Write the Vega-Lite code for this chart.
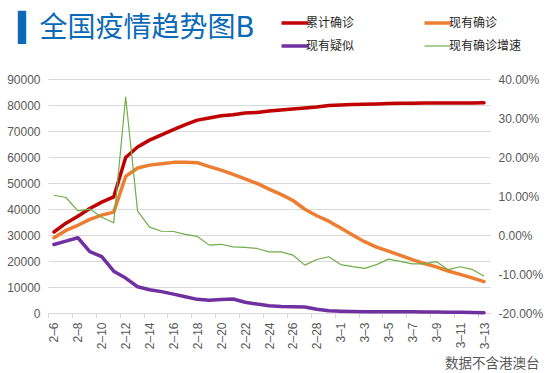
{
  "$schema": "https://vega.github.io/schema/vega-lite/v6.json",
  "width": 442,
  "height": 234,
  "autosize": {"type": "none"},
  "padding": {"left": 48, "top": 79, "right": 65, "bottom": 60},
  "background": "white",
  "title": {
    "text": "▍全国疫情趋势图B",
    "anchor": "start",
    "frame": "group",
    "font": "DejaVu Sans, Noto Sans CJK SC",
    "fontSize": 28,
    "fontWeight": "normal",
    "color": "#0a6ab8",
    "dx": -30,
    "baseline": "middle",
    "offset": 0,
    "dy": 40
  },
  "data": {
    "values": [
      {"d": "2-6", "累计确诊": 31161, "现有确诊": 28985, "现有疑似": 26359, "现有确诊增速": 0.1020},
      {"d": "2-7", "累计确诊": 34546, "现有确诊": 31774, "现有疑似": 27657, "现有确诊增速": 0.0962},
      {"d": "2-8", "累计确诊": 37198, "现有确诊": 33738, "现有疑似": 28942, "现有确诊增速": 0.0618},
      {"d": "2-9", "累计确诊": 40171, "现有确诊": 35982, "现有疑似": 23589, "现有确诊增速": 0.0665},
      {"d": "2-10", "累计确诊": 42638, "现有确诊": 37626, "现有疑似": 21675, "现有确诊增速": 0.0457},
      {"d": "2-11", "累计确诊": 44653, "现有确诊": 38800, "现有疑似": 16067, "现有确诊增速": 0.0312},
      {"d": "2-12", "累计确诊": 59804, "现有确诊": 52526, "现有疑似": 13435, "现有确诊增速": 0.3538},
      {"d": "2-13", "累计确诊": 63851, "现有确诊": 55748, "现有疑似": 10109, "现有确诊增速": 0.0613},
      {"d": "2-14", "累计确诊": 66492, "现有确诊": 56873, "现有疑似": 8969, "现有确诊增速": 0.0202},
      {"d": "2-15", "累计确诊": 68500, "现有确诊": 57416, "现有疑似": 8228, "现有确诊增速": 0.0096},
      {"d": "2-16", "累计确诊": 70548, "现有确诊": 57934, "现有疑似": 7264, "现有确诊增速": 0.0090},
      {"d": "2-17", "累计确诊": 72436, "现有确诊": 58016, "现有疑似": 6242, "现有确诊增速": 0.0014},
      {"d": "2-18", "累计确诊": 74185, "现有确诊": 57805, "现有疑似": 5248, "现有确诊增速": -0.0036},
      {"d": "2-19", "累计确诊": 75002, "现有确诊": 56303, "现有疑似": 4922, "现有确诊增速": -0.0260},
      {"d": "2-20", "累计确诊": 75891, "现有确诊": 54965, "现有疑似": 5206, "现有确诊增速": -0.0238},
      {"d": "2-21", "累计确诊": 76288, "现有确诊": 53284, "现有疑似": 5365, "现有确诊增速": -0.0306},
      {"d": "2-22", "累计确诊": 76936, "现有确诊": 51606, "现有疑似": 4148, "现有确诊增速": -0.0315},
      {"d": "2-23", "累计确诊": 77150, "现有确诊": 49824, "现有疑似": 3434, "现有确诊增速": -0.0345},
      {"d": "2-24", "累计确诊": 77658, "现有确诊": 47672, "现有疑似": 2824, "现有确诊增速": -0.0432},
      {"d": "2-25", "累计确诊": 78064, "现有确诊": 45604, "现有疑似": 2491, "现有确诊增速": -0.0434},
      {"d": "2-26", "累计确诊": 78497, "现有确诊": 43258, "现有疑似": 2358, "现有确诊增速": -0.0514},
      {"d": "2-27", "累计确诊": 78824, "现有确诊": 39919, "现有疑似": 2308, "现有确诊增速": -0.0772},
      {"d": "2-28", "累计确诊": 79251, "现有确诊": 37414, "现有疑似": 1418, "现有确诊增速": -0.0628},
      {"d": "2-29", "累计确诊": 79824, "现有确诊": 35329, "现有疑似": 851, "现有确诊增速": -0.0557},
      {"d": "3-1", "累计确诊": 80026, "现有确诊": 32652, "现有疑似": 715, "现有确诊增速": -0.0758},
      {"d": "3-2", "累计确诊": 80151, "现有确诊": 30004, "现有疑似": 587, "现有确诊增速": -0.0811},
      {"d": "3-3", "累计确诊": 80270, "现有确诊": 27433, "现有疑似": 520, "现有确诊增速": -0.0857},
      {"d": "3-4", "累计确诊": 80409, "现有确诊": 25352, "现有疑似": 522, "现有确诊增速": -0.0759},
      {"d": "3-5", "累计确诊": 80552, "现有确诊": 23784, "现有疑似": 482, "现有确诊增速": -0.0619},
      {"d": "3-6", "累计确诊": 80651, "现有确诊": 22177, "现有疑似": 502, "现有确诊增速": -0.0676},
      {"d": "3-7", "累计确诊": 80695, "现有确诊": 20533, "现有疑似": 458, "现有确诊增速": -0.0741},
      {"d": "3-8", "累计确诊": 80735, "现有确诊": 19016, "现有疑似": 421, "现有确诊增速": -0.0739},
      {"d": "3-9", "累计确诊": 80754, "现有确诊": 17721, "现有疑似": 349, "现有确诊增速": -0.0681},
      {"d": "3-10", "累计确诊": 80778, "现有确诊": 16145, "现有疑似": 285, "现有确诊增速": -0.0889},
      {"d": "3-11", "累计确诊": 80793, "现有确诊": 14831, "现有疑似": 253, "现有确诊增速": -0.0814},
      {"d": "3-12", "累计确诊": 80813, "现有确诊": 13526, "现有疑似": 147, "现有确诊增速": -0.0880},
      {"d": "3-13", "累计确诊": 80824, "现有确诊": 12094, "现有疑似": 115, "现有确诊增速": -0.1059}
    ]
  },
  "encoding": {
    "x": {
      "field": "d",
      "type": "ordinal",
      "sort": null,
      "scale": {"type": "point", "padding": 0.5},
      "axis": {
        "title": "数据不含港澳台",
        "values": ["2-6","2-8","2-10","2-12","2-14","2-16","2-18","2-20","2-22","2-24","2-26","2-28","3-1","3-3","3-5","3-7","3-9","3-11","3-13"],
        "labelExpr": "replace(datum.label, '-', '–')",
        "labelAngle": -90,
        "labelFont": "Liberation Sans",
        "labelFontSize": 12,
        "labelColor": "#595959",
        "labelPadding": 4,
        "tickColor": "#d9d9d9",
        "tickSize": 5,
        "tickOffset": -6,
        "labelOffset": 6,
        "domainColor": "#d9d9d9",
        "grid": false,
        "titleFont": "Noto Sans CJK SC",
        "titleFontSize": 13.5,
        "titleFontWeight": "normal",
        "titleColor": "#595959",
        "titleAnchor": "end",
        "titleAlign": "right",
        "titleBaseline": "middle",
        "titleX": 491,
        "titleY": 50
      }
    },
    "color": {
      "field": "series",
      "type": "ordinal",
      "scale": {
        "domain": ["累计确诊", "现有确诊", "现有疑似", "现有确诊增速"],
        "range": ["#c00000", "#ed7d31", "#7030a0", "#70ad47"]
      },
      "legend": {
        "title": null,
        "orient": "none",
        "direction": "horizontal",
        "legendX": 241,
        "legendY": -62,
        "columns": 2,
        "symbolType": "stroke",
        "symbolSize": 729,
        "symbolStrokeWidth": 3.5,
        "labelFont": "Noto Sans CJK SC",
        "labelFontSize": 12,
        "labelColor": "#262626",
        "labelOffset": 5,
        "columnPadding": 62,
        "rowPadding": 9,
        "encode": {
          "symbols": {
            "update": {
              "strokeWidth": {"signal": "datum.value === '现有确诊增速' ? 1.2 : 3.5"}
            }
          }
        }
      }
    }
  },
  "layer": [
    {
      "transform": [{"fold": ["累计确诊", "现有确诊", "现有疑似"], "as": ["series", "v"]}],
      "mark": {"type": "line", "strokeWidth": 3.5, "strokeJoin": "round", "strokeCap": "round"},
      "encoding": {
        "y": {
          "field": "v",
          "type": "quantitative",
          "scale": {"domain": [0, 90000]},
          "axis": {
            "title": null,
            "values": [0, 10000, 20000, 30000, 40000, 50000, 60000, 70000, 80000, 90000],
            "format": "d",
            "grid": true,
            "gridColor": "#d9d9d9",
            "domain": false,
            "ticks": false,
            "labelPadding": 8,
            "labelFont": "Liberation Sans",
            "labelFontSize": 12,
            "labelColor": "#595959"
          }
        }
      }
    },
    {
      "transform": [{"fold": ["现有确诊增速"], "as": ["series", "g"]}],
      "mark": {"type": "line", "strokeWidth": 1.2, "strokeJoin": "round"},
      "encoding": {
        "y": {
          "field": "g",
          "type": "quantitative",
          "scale": {"domain": [-0.2, 0.4]},
          "axis": {
            "orient": "right",
            "title": null,
            "values": [-0.2, -0.1, 0, 0.1, 0.2, 0.3, 0.4],
            "format": ".2%",
            "labelExpr": "replace(datum.label, '−', '-')",
            "grid": false,
            "domain": false,
            "ticks": false,
            "labelPadding": 8,
            "labelFont": "Liberation Sans",
            "labelFontSize": 12,
            "labelColor": "#595959"
          }
        }
      }
    }
  ],
  "resolve": {"scale": {"y": "independent"}},
  "config": {
    "view": {"stroke": null}
  }
}
